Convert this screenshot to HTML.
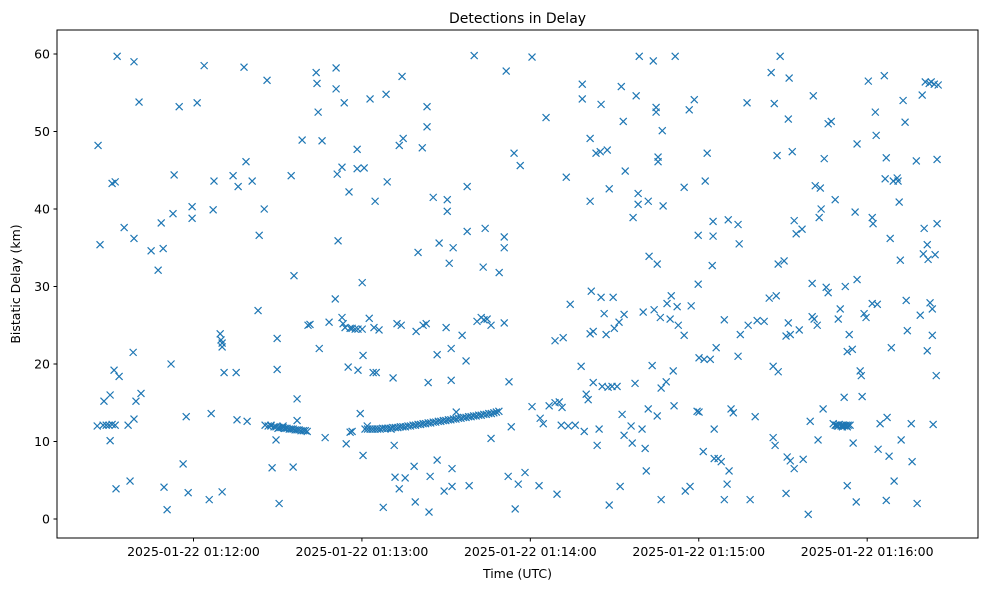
<!DOCTYPE html>
<html><head><meta charset="utf-8">
<style>
body{margin:0;background:#fff;}
svg{display:block;font-family:"DejaVu Sans","Liberation Sans",sans-serif;}
</style></head>
<body>
<svg id="chart" width="989" height="590" viewBox="0 0 989 590" xmlns="http://www.w3.org/2000/svg">
<rect width="989" height="590" fill="#fff"/>
<text x="517.5" y="23" font-size="14" text-anchor="middle" fill="#000">Detections in Delay</text>
<text x="517.5" y="578" font-size="12.5" text-anchor="middle" fill="#000">Time (UTC)</text>
<text x="0" y="0" font-size="12.5" text-anchor="middle" fill="#000" transform="translate(20,284) rotate(-90)">Bistatic Delay (km)</text>
<g id="marks"></g>
<g id="axes"></g>
<rect x="57" y="30" width="921" height="508" fill="none" stroke="#000" stroke-width="1"/>
</svg>
<script>
const xTickSeconds = [60, 120, 180, 240, 300];
const xTickLabels = ["2025-01-22 01:12:00","2025-01-22 01:13:00","2025-01-22 01:14:00","2025-01-22 01:15:00","2025-01-22 01:16:00"];
const yTicks = [0, 10, 20, 30, 40, 50, 60];

// time in seconds after 01:11:00 UTC, delay in km
const g1Time = [26.0,26.7,25.7,28.1,27.8,28.9,29.9,31.0,32.1,30.3,30.3,31.0,32.1,31.7,32.4,32.8,33.5,35.3,36.7,37.4,38.5,38.8,38.8,38.8,39.5,40.6,41.3,44.9,47.4,48.5,49.2,49.5,50.6,52.0,52.7,53.1,54.9,56.3,57.4,58.1,59.5,59.5,61.3,63.8,65.6,66.3,67.0,67.3,69.5,69.8,70.2,70.2,70.2,70.9,74.1,75.2,75.5,75.9,78.0,78.7,79.1,80.9,83.0,83.4,85.2,86.2,87.6,88.0,89.8,89.8,90.5,89.4,90.1,91.9,94.8,95.5,95.8,96.9,96.9,98.7];
const g1Delay = [48.2,35.4,12.0,15.2,12.1,12.1,12.1,12.2,12.1,10.1,16.0,43.3,43.5,19.2,3.9,59.7,18.4,37.6,12.1,4.9,21.5,59.0,36.2,12.9,15.2,53.8,16.2,34.6,32.1,38.2,34.9,4.1,1.2,20.0,39.4,44.4,53.2,7.1,13.2,3.4,40.3,38.8,53.7,58.5,2.5,13.6,39.9,43.6,23.9,23.1,22.7,22.2,3.5,18.9,44.3,18.9,12.8,42.9,58.3,46.1,12.6,43.6,26.9,36.6,40.0,56.6,12.1,6.6,23.3,19.3,2.0,10.2,11.7,12.0,44.3,6.7,31.4,15.5,12.7,48.9];

const g2Time = [100.8,101.5,103.7,104.0,104.4,104.8,105.8,106.9,108.3,110.8,110.5,110.8,111.5,111.2,112.9,112.9,113.3,113.7,114.0,114.4,115.1,115.4,115.8,116.5,115.8,116.5,117.6,118.6,118.3,118.3,118.6,119.4,120.1,120.1,120.4,120.4,120.8,121.9,122.6,122.9,124.0,124.7,125.1,124.3,126.1,127.6,128.6,129.0,130.4,131.1,131.5,131.8,132.5,133.3,133.3,134.3,134.0,134.7,135.4,138.6,139.3,139.0,140.0,141.5,141.8,142.9,143.2,143.2,143.6,143.9,144.3,145.4,146.8,146.8,147.5,149.3,150.0,150.4,150.4,151.1,151.8,151.8,152.1,152.1,152.5,153.6,155.7,157.1,157.5,157.5,158.2,160.0,161.0,162.5,163.2,163.5,163.9,164.6,166.0,166.0,168.9,170.7,170.7,170.7,171.4,172.1,172.4,173.2,174.2,174.6,175.7,176.4,178.1,180.6];
const g2Delay = [25.0,25.1,57.6,56.2,52.5,22.0,48.8,10.5,25.4,58.2,28.4,55.5,35.9,44.5,45.4,26.0,25.2,53.7,24.7,9.7,19.6,42.2,11.2,11.3,24.6,24.6,24.5,24.5,45.2,47.7,19.2,13.6,24.5,30.5,21.1,8.2,45.3,12.0,25.9,54.2,18.9,41.0,18.9,24.7,24.4,1.5,54.8,43.5,11.6,18.2,9.5,5.4,25.2,48.2,3.9,57.1,25.0,49.1,5.3,6.8,24.2,2.2,34.4,47.9,25.0,25.2,50.6,53.2,17.6,0.9,5.5,41.5,21.2,7.6,35.6,3.6,24.7,39.7,41.2,33.0,22.0,17.9,6.5,4.2,35.0,13.8,23.7,20.4,42.9,37.1,4.3,59.8,25.5,26.0,32.5,25.7,37.5,25.8,10.4,25.0,31.8,36.4,35.0,25.3,57.8,5.5,17.7,11.9,47.2,1.3,4.5,45.6,6.0,59.6];

const g3Time = [180.6,183.1,183.5,184.6,185.6,186.7,188.8,188.8,189.5,190.3,191.0,191.3,191.7,192.8,193.5,194.2,196.0,198.1,198.5,198.5,199.2,199.9,200.6,201.3,201.3,201.3,201.7,202.4,202.4,203.4,203.8,204.5,204.9,205.2,205.2,205.6,206.3,207.0,207.4,207.7,208.1,208.1,209.1,209.5,209.9,210.9,211.6,212.0,212.4,212.7,213.1,213.4,213.4,213.8,215.9,216.3,216.6,217.3,217.7,218.4,218.4,218.8,219.8,220.2,220.9,221.3,222.0,222.3,222.0,223.4,223.8,224.1,224.8,224.8,225.2,225.2,225.5,225.5,226.3,226.6,226.6,227.0,227.3,228.4,228.7,229.8,230.2,230.9,231.6,231.2,232.3,232.7,234.8,234.8,235.2,236.6,236.9,237.3,238.4,239.4,239.8,239.8,240.1,240.1,241.6,241.9,242.3,243.0,244.1,244.8,245.1,245.5,245.1,245.5,246.2,246.9,248.0,249.1,249.1,250.1,250.5,250.8,251.5,252.3,254.0,254.4,254.0,254.8,257.2,257.6,258.3];
const g3Delay = [14.5,4.3,13.0,12.3,51.8,14.6,15.0,23.0,3.2,15.1,12.1,14.4,23.4,44.1,12.0,27.7,12.1,19.7,56.1,54.2,11.3,16.1,15.4,49.1,23.9,41.0,29.4,17.6,24.2,47.2,9.5,11.6,47.4,53.5,28.6,17.1,26.5,23.8,47.6,17.0,42.6,1.8,17.1,28.6,24.6,17.1,25.4,4.2,55.8,13.5,51.3,26.4,10.8,44.9,12.0,9.8,38.9,17.5,54.6,42.0,40.6,59.7,11.6,26.7,9.1,6.2,14.2,33.9,41.0,19.8,59.1,27.0,53.1,52.5,32.9,13.3,46.7,46.1,26.0,16.9,2.5,50.1,40.4,17.7,27.8,25.8,28.8,19.1,59.7,14.6,27.4,25.0,42.8,23.7,3.6,52.8,4.2,27.5,54.1,13.9,36.6,30.3,20.8,13.8,8.7,20.6,43.6,47.2,20.6,32.7,38.4,7.8,36.5,11.6,22.1,7.8,7.4,25.7,2.5,4.5,38.6,6.2,14.2,13.7,38.0,35.5,21.0,23.8,53.7,25.0,2.5];

const g4Time = [260.1,260.8,263.3,265.1,265.8,266.5,266.5,266.9,267.2,267.6,267.9,268.3,268.3,269.0,270.4,271.1,271.5,271.1,271.9,271.9,272.2,272.6,272.6,273.3,274.0,274.0,274.7,275.8,276.8,277.2,279.0,279.7,280.4,280.4,280.8,281.1,281.5,282.2,282.5,283.3,282.9,283.6,284.3,284.7,285.4,286.1,286.1,287.2,287.9,288.6,288.6,289.7,289.7,290.4,290.7,291.5,291.8,292.2,292.5,292.9,292.9,292.9,293.6,293.9,294.7,295.0,295.7,296.1,296.4,296.4,297.5,297.9,298.2,298.9,299.6,300.4,301.8,301.8,302.1,302.9,303.2,303.6,303.9,304.6,306.1,306.4,306.8,306.8,307.1,307.8,308.2,308.6,309.3,309.6,310.7,311.0,311.4,311.8,312.1,312.8,313.5,313.9,314.3,315.7,316.0,317.5,317.8,318.9,319.6,320.0,320.3,320.7,321.4,321.4,321.7,322.1,322.4,322.8,323.2,323.2,323.5,323.9,324.2,324.6,324.9,324.9,325.3];
const g4Delay = [13.2,25.6,25.5,28.5,57.6,19.7,10.5,53.6,9.5,28.8,46.9,32.9,19.0,59.7,33.3,23.6,8.0,3.3,25.3,51.6,56.9,7.5,23.8,47.4,6.5,38.5,36.8,24.4,37.4,7.7,0.6,12.6,26.1,30.4,54.6,25.8,43.0,25.0,10.2,42.7,38.9,40.0,14.2,46.5,29.9,29.2,51.0,51.3,12.3,41.2,12.1,12.0,25.8,27.1,12.0,12.1,15.7,30.0,12.1,21.6,4.3,11.9,23.8,12.1,21.9,9.8,39.6,2.2,48.4,30.9,19.1,18.5,15.8,26.5,26.0,56.5,38.9,27.8,38.1,52.5,49.5,27.7,9.0,12.3,57.2,43.9,46.6,2.4,13.1,8.1,36.2,22.1,43.6,4.9,44.0,43.6,40.9,33.4,10.2,54.0,51.2,28.2,24.3,12.3,7.4,46.2,2.0,26.3,54.7,34.2,37.5,56.4,21.7,35.4,33.5,56.2,27.9,56.4,27.1,23.7,12.2,56.1,34.1,18.5,46.4,38.1,56.0];

const bandATime = [85.5,86.6,87.6,88.7,89.4,90.5,91.2,91.9,92.6,93.3,94.1,94.8,95.5,96.2,96.9,97.6,98.3,99.1,99.8,100.5,289.0,289.4,290.0,291.0,291.2,292.0,293.2];
const bandADelay = [12.1,12.0,12.0,11.9,11.9,11.8,11.8,11.8,11.7,11.7,11.6,11.6,11.6,11.5,11.5,11.5,11.4,11.4,11.4,11.3,12.1,12.0,12.2,12.1,11.9,12.0,12.1];

const bandBTime = [121.1,122.0,122.9,123.8,124.7,125.6,126.5,127.4,128.3,129.2,130.1,131.0,131.9,132.8,133.7,134.6,135.5,136.4,137.3,138.2,139.1,140.0,140.9,141.8,142.7,143.6,144.5,145.4,146.3,147.2,148.1,149.0,149.9,150.8,151.7,152.6,153.5,154.4,155.3,156.2,157.1,158.0,158.9,159.8,160.7,161.6,162.5,163.4,164.3,165.2,166.1,167.0,167.9,168.8];
const bandBDelay = [11.6,11.6,11.6,11.6,11.6,11.6,11.6,11.7,11.7,11.7,11.7,11.8,11.8,11.8,11.9,11.9,11.9,12.0,12.0,12.1,12.1,12.2,12.2,12.3,12.3,12.4,12.4,12.5,12.5,12.6,12.6,12.7,12.7,12.8,12.8,12.9,12.9,13.0,13.0,13.1,13.1,13.2,13.2,13.3,13.3,13.4,13.4,13.5,13.5,13.6,13.6,13.7,13.8,13.9];

const NS = "http://www.w3.org/2000/svg";
function xScale(t){ return 193.5 + (t - 60) * 2.807; }
function yScale(d){ return 519 - d * 7.75; }

const marks = document.getElementById('marks');
function drawGroup(times, delays){
  const n = Math.min(times.length, delays.length);
  for(let i=0;i<n;i++){
    const cx = xScale(times[i]), cy = yScale(delays[i]);
    const p = document.createElementNS(NS,'path');
    p.setAttribute('d', `M${cx-3.5},${cy-3.5}L${cx+3.5},${cy+3.5}M${cx-3.5},${cy+3.5}L${cx+3.5},${cy-3.5}`);
    p.setAttribute('stroke','#1f77b4');
    p.setAttribute('stroke-width','1.2');
    p.setAttribute('fill','none');
    
    
    marks.appendChild(p);
  }
}
drawGroup(g1Time, g1Delay);
drawGroup(g2Time, g2Delay);
drawGroup(g3Time, g3Delay);
drawGroup(g4Time, g4Delay);
drawGroup(bandATime, bandADelay);
drawGroup(bandBTime, bandBDelay);

const axes = document.getElementById('axes');
xTickSeconds.forEach((t,i)=>{
  const x = xScale(t);
  const l = document.createElementNS(NS,'line');
  l.setAttribute('x1',x); l.setAttribute('x2',x); l.setAttribute('y1',538); l.setAttribute('y2',541.5);
  l.setAttribute('stroke','#000');
  
  
  axes.appendChild(l);
  const tx = document.createElementNS(NS,'text');
  tx.setAttribute('x',x); tx.setAttribute('y',556);
  tx.setAttribute('font-size','12.5'); tx.setAttribute('text-anchor','middle');
  tx.textContent = xTickLabels[i];
  
  
  axes.appendChild(tx);
});
yTicks.forEach(v=>{
  const y = yScale(v);
  const l = document.createElementNS(NS,'line');
  l.setAttribute('x1',53.5); l.setAttribute('x2',57); l.setAttribute('y1',y); l.setAttribute('y2',y);
  l.setAttribute('stroke','#000');
  
  
  axes.appendChild(l);
  const tx = document.createElementNS(NS,'text');
  tx.setAttribute('x',50); tx.setAttribute('y',y+4.5);
  tx.setAttribute('font-size','12.5'); tx.setAttribute('text-anchor','end');
  tx.textContent = String(v);
  
  
  axes.appendChild(tx);
});
</script>
</body></html>
